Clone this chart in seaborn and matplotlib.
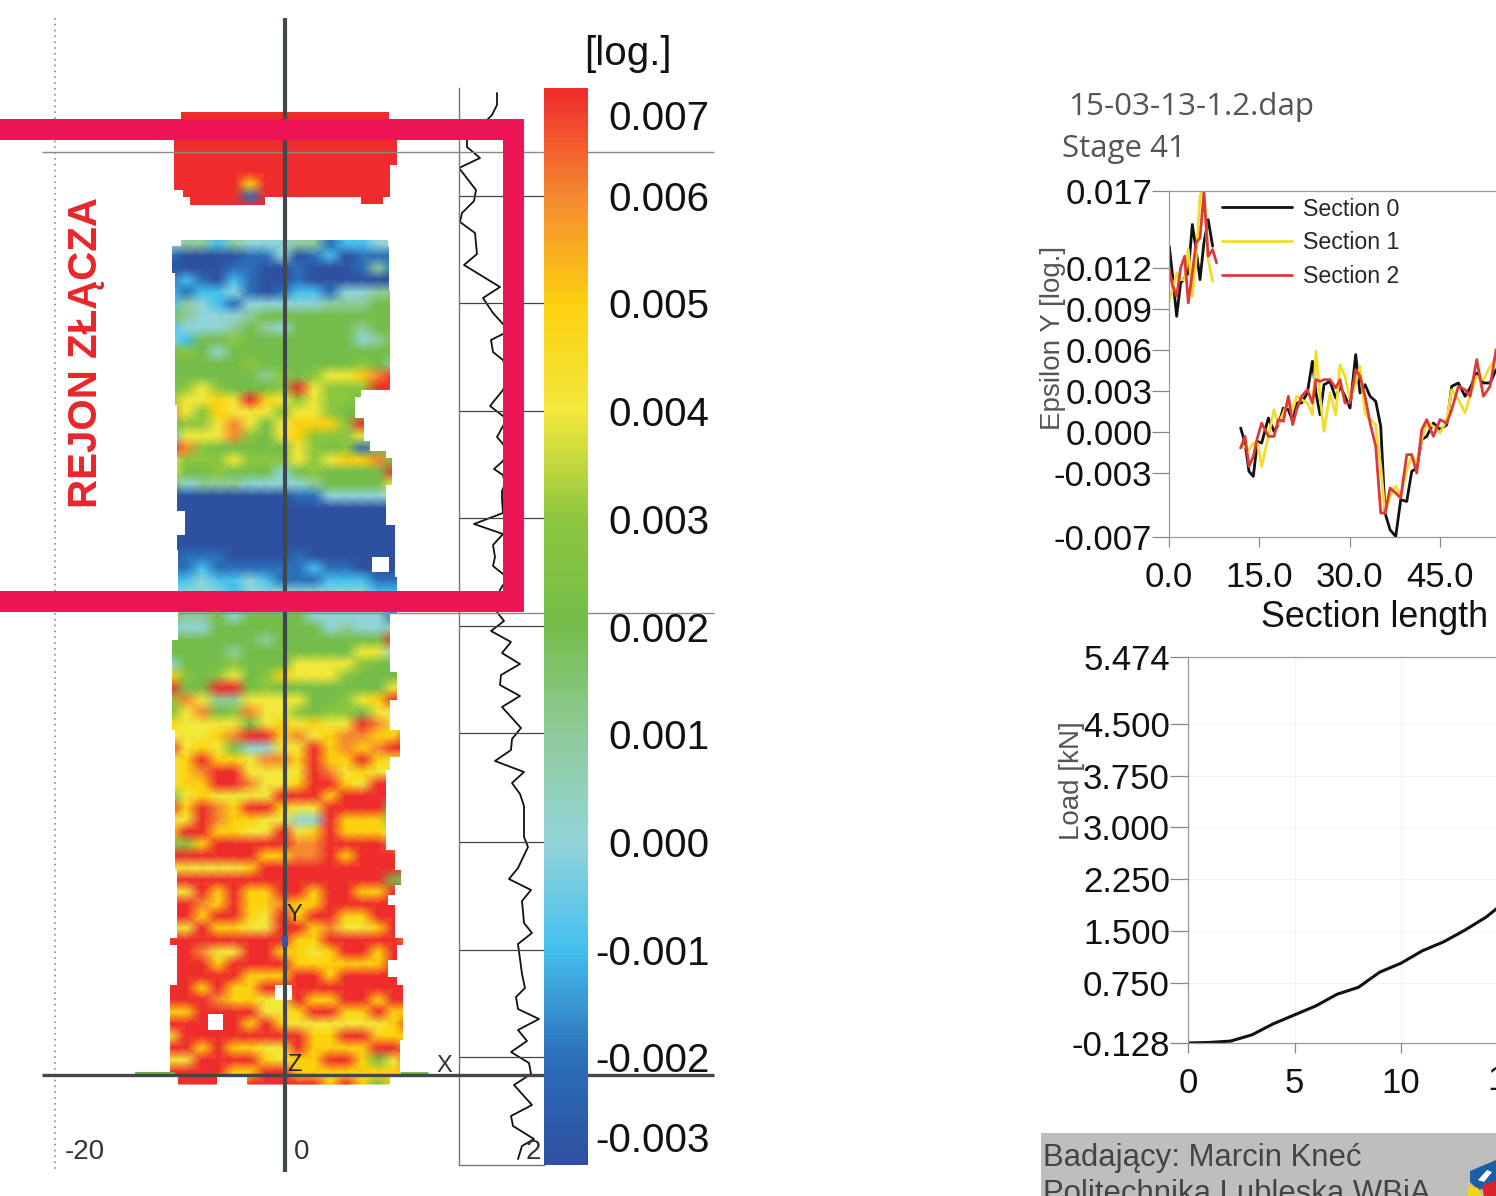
import numpy as np
import pandas as pd
import seaborn as sns
import matplotlib.pyplot as plt
from matplotlib.colors import LinearSegmentedColormap
from matplotlib.patches import PathPatch, Rectangle, Polygon
from matplotlib.path import Path

W, H = 1496, 1196

# strain map, one char per sample: digit d -> (d-3)/1000, 'a' = 0.007
map_top = ['aaaaaaaaaaaaaaaa'] * 6 + [
    'aaaaa8aaaaaaaaaa', 'aaaaa1aaaaaaaaaa', 'aaaaaaaaaaaaaaaa',
    '3442433344122333', '3442433344122333']
map_upper = [
    '3442433344122333', '1000011301201111', '0000110010001411', '1210210010000000',
    '2122310122133444', '2432133333444555', '5433345555555555', '2333454355554555',
    '3255655555553455', '5653555555555555', '5555565555556544', '55555546567789aa',
    '56765556a7666aaa', '67787a8767665555', '9768777677655555', '566797578886a555',
    '2777965786667555', 'a965555576561555', '7666766676788955', '75565553565555aa',
    '5344433334555577', '0000000011333333', '0000000000000000', '0000000000000000',
    '0000000000000000', '0000000000000000', '0111000010000000', '1121111112110000',
    '2232232111222111', '3333233333333222']
map_lower = [
    '3333333333333335', '5445355553333315', '3335555555343345', '55555545555555a5',
    '5555455555557735', '3555655577776555', '8656756877765555', 'a55aa56555555577',
    '69744777755678aa', '5795697765665777', '877775787877a975', '77789aa89789988a',
    'a78753377a8989aa', '78a887998a88a877', '789aa7777a978777', '788aa9778aa87aaa',
    '5787777aaa8aaaaa', 'a8a98aa877aaaa66', '77a9887733a88855', '8aa8877a78a88877',
    '668aaaaa99aaaa99', 'aaaaaa8899a8aaaa', '777778aaaaaaaaaa', 'aaaaaaaaaaaaaa55',
    '77a8a88aa8aa88aa', 'aa98a88988aaaaaa', 'aa8aa87a8aa88aaa', '87a8877aa89778aa',
    'aaaaaaaa88aaaaa9', 'aa977aa8878aa8aa', 'aaa8aaaa888888aa', 'aaaaa888aa8aaaaa',
    'aa8a88aaaaaaaaaa', 'aaa98877a88aa8aa', '88aaaa778aa88a88', 'aaaaa8a87777778a',
    '7aaaaaaaa88aa888', 'aa8a8877a8888aa8', '77aaaa8788aa857a', 'aaaa88aa88888888',
    'aaaa7aaaaa8a8588']

scale_colors = ['#2e50a0', '#2b70b9', '#45bfee', '#93d4d8', '#8fcb9a', '#74bd4a',
                '#8cc63f', '#f2e83c', '#fdd10f', '#f58a30', '#ee2c2c']
scale_ticks = [0.00675, 0.006, 0.005, 0.004, 0.003, 0.002, 0.001, 0.0, -0.001, -0.002, -0.00274]
scale_labels = ['0.007', '0.006', '0.005', '0.004', '0.003', '0.002', '0.001', '0.000',
                '-0.001', '-0.002', '-0.003']

# outline of the measured area: top, bottom, left, right
map_blocks = [
    (112, 119, 181, 389), (119, 165, 174, 397), (165, 190, 174, 390), (190, 197, 183, 390),
    (197, 205, 190, 265), (197, 204, 361, 383),
    (240, 246, 181, 388), (246, 273, 172, 389), (273, 290, 175, 389), (290, 390, 175, 390),
    (390, 397, 175, 361), (397, 405, 175, 355), (405, 418, 177, 355), (418, 441, 177, 364),
    (441, 451, 177, 370), (451, 458, 177, 386), (458, 485, 177, 392), (485, 511, 177, 386),
    (511, 525, 185, 386), (525, 535, 185, 395), (535, 550, 177, 395), (550, 577, 178, 395),
    (577, 613, 178, 397),
    (613, 640, 178, 390), (640, 672, 172, 390), (672, 700, 172, 397), (700, 730, 172, 390),
    (730, 757, 175, 400), (757, 770, 175, 390), (770, 850, 175, 386), (850, 870, 175, 395),
    (870, 885, 177, 401), (885, 895, 177, 395), (895, 905, 177, 388), (905, 938, 177, 395),
    (938, 945, 170, 403), (945, 960, 177, 397), (960, 977, 177, 388), (977, 985, 177, 397),
    (985, 1040, 170, 403), (1040, 1075, 170, 400),
    (1077, 1085, 178, 217), (1077, 1085, 247, 390)]
map_holes = [(372, 557, 17, 15), (275, 985, 17, 15), (208, 1014, 15, 16)]

profile_x = [497, 497, 492, 467, 467, 480, 459, 476, 474, 462, 460, 475, 477, 464, 500, 483, 493, 503,
             507, 503, 491, 493, 503, 508, 503, 490, 503, 507, 503, 497, 503, 507, 503, 494, 503, 505,
             502, 502, 503, 474, 503, 493, 495, 493, 503, 507, 503, 500, 497, 504, 491, 511, 502, 520,
             501, 500, 520, 502, 521, 512, 511, 495, 524, 512, 520, 524, 524, 528, 518, 509, 531, 522,
             524, 532, 518, 522, 525, 516, 518, 539, 518, 527, 511, 529, 531, 514, 532, 511, 513, 534,
             522, 518]
profile_y = [93, 105, 115, 140, 147, 158, 168, 190, 201, 213, 222, 233, 254, 265, 287, 298, 313, 324,
             329, 334, 340, 352, 360, 375, 390, 406, 416, 420, 426, 437, 444, 452, 461, 469, 475, 484,
             491, 499, 513, 524, 534, 545, 557, 566, 574, 580, 585, 590, 612, 621, 631, 642, 653, 664,
             675, 685, 696, 707, 728, 739, 750, 761, 772, 783, 794, 806, 837, 847, 868, 879, 890, 901,
             923, 933, 944, 974, 988, 997, 1009, 1019, 1030, 1041, 1052, 1063, 1074, 1085, 1105, 1116,
             1126, 1139, 1146, 1159]
profile_levels = [196, 303, 411, 518, 626, 733, 842, 950, 1057]

# section profiles, strain in 1/1000
left_x = [0.05, 0.6, 1.27, 1.93, 2.6, 3.2, 3.87, 4.5, 5.15, 5.8, 6.5, 7.25]
left_s0 = [13.56, 11.37, 8.44, 10.88, 11.24, 11.61, 15.15, 13.32, 11.12, 13.81, 15.51, 13.56]
left_s1 = [9.66, 10.39, 11.61, 11.12, 11.12, 13.32, 9.9, 12.59, 17.22, 17.71, 12.59, 11.0]
left_x2 = [0.05, 0.6, 1.27, 1.93, 2.6, 3.2, 3.87, 4.5, 5.15, 5.8, 6.5, 7.25, 7.9]
left_s2 = [11.85, 10.64, 9.9, 11.98, 12.83, 9.42, 11.61, 13.81, 14.17, 17.46, 12.83, 13.32, 12.34]
main_x = [11.9, 12.62, 13.28, 14.0, 14.67, 15.39, 16.5, 17.44, 18.16, 18.99, 19.82, 20.54, 21.2, 22.03,
          22.97, 23.81, 24.41, 25.08, 25.74, 26.74, 27.68, 28.4, 29.23, 30.06, 31.0, 31.72, 32.55,
          33.39, 34.33, 35.16, 35.88, 36.71, 37.65, 38.48, 39.48, 40.31, 41.14, 41.97, 42.8, 43.91,
          45.01, 46.12, 46.95, 48.06, 49.17, 50.0, 51.1, 52.21, 53.32, 54.32]
main_s0 = [0.27, -0.83, -2.9, -3.27, -0.71, -0.83, 1.0, 0.03, 0.51, 1.73, 1.61, 0.76, 2.1, 2.1, 2.83,
           5.15, 2.83, 1.24, 3.44, 3.68, 2.46, 3.32, 2.59, 1.73, 5.64, 2.83, 3.44, 2.59, 2.22, 0.39,
           -5.95, -7.17, -7.66, -4.97, -5.1, -2.9, -2.66, -0.58, -0.34, 0.63, 0.15, 0.51, 3.32, 3.56,
           2.59, 3.2, 4.29, 3.56, 3.56, 4.54]
main_s1 = [-1.19, -1.07, -1.32, -0.83, -0.83, -2.54, -0.34, 1.61, 0.51, 1.37, 2.34, 1.61, 2.59, 2.34,
           2.1, 1.24, 5.88, 2.59, 0.03, 2.83, 1.24, 4.9, 4.05, 2.34, 3.56, 4.78, 1.37, 0.88, 0.51,
           -2.54, -5.95, -4.73, -4.0, -4.73, -2.78, -1.8, -2.29, -0.58, 0.63, 0.39, -0.1, 0.88, 3.07,
           2.34, 1.37, 2.59, 4.05, 3.81, 4.78, 5.39]
main_s2 = [-1.19, -0.34, -2.54, -1.8, -0.46, 0.63, -0.34, -0.34, 0.88, 0.76, 2.59, 0.51, 1.61, 2.59,
           3.07, 2.1, 3.81, 3.68, 3.81, 3.81, 3.2, 3.81, 2.1, 2.1, 4.54, 4.05, 2.59, 0.63, -1.07, -5.95,
           -5.95, -4.12, -4.49, -4.85, -1.68, -1.68, -3.02, 0.15, 0.88, -0.34, 0.88, 0.63, 1.61, 3.32,
           3.07, 2.59, 5.27, 2.59, 3.32, 6.0]
section_names = ['Section 0', 'Section 1', 'Section 2']
section_colors = ['#111111', '#f2dc2c', '#dc3a36']
eps_ticks = [0.0176, 0.012, 0.009, 0.006, 0.003, 0.0, -0.003, -0.0077]
eps_labels = ['0.017', '0.012', '0.009', '0.006', '0.003', '0.000', '-0.003', '-0.007']

load_stage = list(range(16))
load_kn = [-0.128, -0.12, -0.10, -0.01, 0.15, 0.28, 0.41, 0.58, 0.68, 0.90, 1.03, 1.21, 1.34, 1.51, 1.70, 1.95]
load_ticks = [5.474, 4.5, 3.75, 3.0, 2.25, 1.5, 0.75, -0.128]
load_labels = ['5.474', '4.500', '3.750', '3.000', '2.250', '1.500', '0.750', '-0.128']

sns.set_theme(style='ticks')
plt.rcParams['font.family'] = ['Liberation Sans', 'DejaVu Sans']

fig = plt.figure(figsize=(W / 100, H / 100), dpi=100, facecolor='white')


def px_axes(left, top, right, bottom, z):
    a = fig.add_axes([left / W, 1 - bottom / H, (right - left) / W, (bottom - top) / H], zorder=z)
    a.patch.set_alpha(0)
    return a


def rect_path(x0, y0, x1, y1):
    return Path([(x0, y0), (x1, y0), (x1, y1), (x0, y1), (x0, y0)])


over = px_axes(0, 0, W, H, 4)
over.set_xlim(0, W)
over.set_ylim(H, 0)
over.axis('off')

# strain map and its colour scale
rows = map_top + map_upper + map_lower
grid = pd.DataFrame([[(int(c, 16) - 3) / 1000 for c in r] for r in rows])
cmap = LinearSegmentedColormap.from_list('strain', scale_colors)
map_ax = px_axes(170, 112, 170 + 16 * 16, 112 + len(rows) * 12, 1)
cax = px_axes(544, 88, 588, 1165, 5)
sns.heatmap(grid, ax=map_ax, cbar_ax=cax, cmap=cmap, vmin=-0.003, vmax=0.007, shading='gouraud',
            xticklabels=False, yticklabels=False)
map_ax.patch.set_alpha(0)
outline = Path.make_compound_path(*[rect_path(b[2], b[0], b[3], b[1]) for b in map_blocks])
map_ax.collections[0].set_clip_path(PathPatch(outline, transform=over.transData))
cax.set_yticks(scale_ticks, labels=scale_labels)
cax.tick_params(length=0, pad=87.5, labelsize=29, labelcolor='#111111')
for t in cax.get_yticklabels():
    t.set_ha('right')

# profile next to the map
prof = px_axes(459, 88, 544, 1165, 2)
sns.lineplot(x=profile_x, y=profile_y, sort=False, estimator=None, color='#111111', lw=1.3, ax=prof)
prof.set_xlim(459, 544)
prof.set_ylim(1165, 88)
prof.set_xticks([])
prof.set_yticks([])
prof.hlines(profile_levels, 459, 544, color='#444444', lw=0.9)
for s in ['top', 'right']:
    prof.spines[s].set_visible(False)
for s in ['left', 'bottom']:
    prof.spines[s].set_color('#777777')
    prof.spines[s].set_linewidth(1)

# annotations over the map
for x, y, w, h in map_holes:
    over.add_patch(Rectangle((x, y), w, h, fc='white', ec='none', zorder=1))
over.vlines(55, 18, 1170, color='#8a8a8a', lw=1.2, ls=(0, (1, 2.5)), zorder=1)
over.hlines(152, 42, 714, color='#8a8a8a', lw=1, zorder=2)
over.hlines(613, 178, 714, color='#8a8a8a', lw=1, zorder=2)
over.hlines(1073, 135, 175, color='#6fb04a', lw=1.5, zorder=2)
over.hlines(1073, 400, 428, color='#6fb04a', lw=2, zorder=2)
over.vlines(285, 18, 1172, color='#41474b', lw=3, zorder=3)
over.hlines(1075, 42, 714, color='#41474b', lw=2.4, zorder=3)
over.add_patch(Rectangle((282, 936), 6, 10, fc='#3a55a5', ec='none', zorder=4))
over.text(85, 1152, '-20', fontsize=20, color='#333333', ha='center', va='center')
over.text(302, 1152, '0', fontsize=20, color='#333333', ha='center', va='center')
over.text(533, 1152, '2', fontsize=20, color='#333333', ha='center', va='center')
over.text(444, 1066, 'X', fontsize=17, color='#333333', ha='center', va='center')
over.text(294, 915, 'Y', fontsize=17, color='#222222', ha='center', va='center', zorder=4)
over.text(295, 1065, 'Z', fontsize=17, color='#222222', ha='center', va='center', zorder=4)
pink = '#ee1556'
over.add_patch(Rectangle((0, 119), 524, 21, fc=pink, ec='none', zorder=6))
over.add_patch(Rectangle((503, 119), 21, 493, fc=pink, ec='none', zorder=6))
over.add_patch(Rectangle((0, 591), 524, 21, fc=pink, ec='none', zorder=6))
over.text(86, 352, 'REJON ZŁĄCZA', rotation=90, fontsize=29, fontweight='bold', color='#e8262a',
          ha='center', va='center')
over.text(628, 54, '[log.]', fontsize=29, color='#111111', ha='center', va='center')

# header and footer on the right
over.text(1068, 107, '15-03-13-1.2.dap', fontsize=22.6, family='Open Sans', color='#555555', va='center')
over.text(1062, 149, 'Stage 41', fontsize=22.5, family='Open Sans', color='#555555', va='center')
over.add_patch(Rectangle((1041, 1133), 455, 63, fc='#bebebe', ec='none', zorder=0))
over.text(1043, 1158, 'Badający: Marcin Kneć', fontsize=22.4, color='#444444', va='center')
over.text(1043, 1194, 'Politechnika Lubleska WBiA', fontsize=22.4, color='#444444', va='center')
over.add_patch(Polygon([(1470, 1171), (1496, 1160), (1496, 1186), (1478, 1190), (1470, 1182)], fc='#1b5fa8', ec='none', zorder=1))
over.add_patch(Polygon([(1468, 1185), (1478, 1188), (1482, 1196), (1468, 1196)], fc='#f4d516', ec='none', zorder=1))
over.add_patch(Polygon([(1482, 1186), (1496, 1180), (1496, 1196), (1484, 1196)], fc='#d8232a', ec='none', zorder=1))
over.add_patch(Polygon([(1478, 1180), (1487, 1170), (1492, 1172), (1484, 1182)], fc='white', ec='none', zorder=2))

# section plot
sec = px_axes(1169, 191, 1496, 537, 3)
main_series = [main_s0, main_s1, main_s2]
left_series = [(left_x, left_s0), (left_x, left_s1), (left_x2, left_s2)]
for i in range(3):
    lx, ly = left_series[i]
    sns.lineplot(x=lx, y=np.array(ly) / 1000, sort=False, estimator=None, color=section_colors[i], lw=2, ax=sec)
    sns.lineplot(x=main_x, y=np.array(main_series[i]) / 1000, sort=False, estimator=None, color=section_colors[i],
                 lw=2, ax=sec, label=section_names[i])
sec.set_xticks([0, 15, 30, 45], labels=['0.0', '15.0', '30.0', '45.0'])
sec.set_yticks(eps_ticks, labels=eps_labels)
sec.set_xlim(0, 54.3)
sec.set_ylim(-0.0077, 0.0176)
sec.legend(loc='upper left', bbox_to_anchor=(0.162, 0.981), frameon=False, fontsize=16.7, borderpad=0,
           borderaxespad=0, handlelength=3, handletextpad=0.5, labelspacing=0.46)
sec.set_xlabel('Section length', fontsize=25.8, color='#111111')
sec.xaxis.set_label_coords(0.628, -0.234)
sec.xaxis.label.set_va('center')
sec.set_ylabel('Epsilon Y [log.]', fontsize=20, color='#555555')
sec.yaxis.set_label_coords(-0.355, 0.575)
sec.yaxis.label.set_va('center')

# load plot
load = px_axes(1188, 657, 1496, 1043, 3)
sns.lineplot(x=load_stage, y=load_kn, sort=False, estimator=None, color='#111111', lw=2.2, ax=load)
load.set_xticks([0, 5, 10], labels=['0', '5', '10'])
load.set_yticks(load_ticks, labels=load_labels)
load.set_xlim(0, 14.46)
load.set_ylim(-0.128, 5.474)
load.grid(color='#f2f2f2', lw=0.8)
load.set_ylabel('Load [kN]', fontsize=20, color='#555555')
load.yaxis.set_label_coords(-0.376, 0.68)
load.yaxis.label.set_va('center')
over.text(1507, 1080, '15', fontsize=25, color='#111111', ha='center', va='center')

for a, ylen in [(sec, 12), (load, 13)]:
    a.tick_params(axis='y', length=ylen, width=0.9, color='#888888', labelsize=25, labelcolor='#111111', pad=0)
    a.tick_params(axis='x', length=7, width=0.9, color='#888888', labelsize=25, labelcolor='#111111', pad=10)
    a.spines['right'].set_visible(False)
    a.spines['top'].set_visible(True)
    for s in a.spines.values():
        s.set_color('#999999')
        s.set_linewidth(0.9)

fig.savefig('out.png', dpi=100)
